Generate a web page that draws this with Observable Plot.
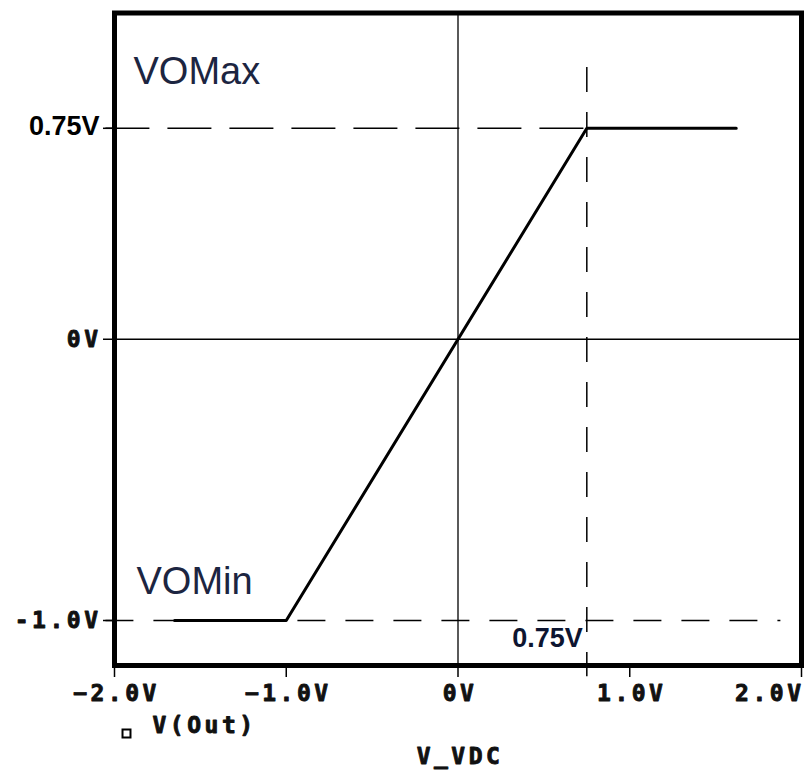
<!DOCTYPE html>
<html><head><meta charset="utf-8">
<script src="https://cdn.jsdelivr.net/npm/d3@7"></script>
<script src="https://cdn.jsdelivr.net/npm/@observablehq/plot@0.6"></script>
<style>
html,body{margin:0;padding:0;background:#fff;}
g[font-family*="Mono"] text{letter-spacing:3.5px;}
</style></head><body><div id="chart"></div>
<script>
// ---- data ----
const xTicks = [-2, -1, 0, 1, 2];
const xTickLabels = ["\u22122.0V", "\u22121.0V", "0V", "1.0V", "2.0V"];
const yTicks = [0.75, 0, -1];
const yTickValues = [0, -1];
const yTickLabels = ["0V", "-1.0V"];
const vIn = [-1.65, -1.0, 0.75, 1.62];
const vOut = [-1.0, -1.0, 0.75, 0.75];
const voMax = 0.75, voMin = -1.0, vBreak = 0.75;
const guideMaxExtent = [-2.05, 0.75];
const guideMinExtent = [-2.05, 1.88];
const guideBreakExtent = [0.966, -1.2];
const seriesName = "V(Out)";
const xAxisTitle = "V_VDC";
const xDomain = [-2, 2];
const yDomain = [-1.16, 1.16];

const curve = vIn.map((x, i) => ({x, y: vOut[i]}));
const mono = {fontFamily: "DejaVu Sans Mono", fontWeight: "bold", fontSize: 23, fill: "#111", stroke: "#111", strokeWidth: 0.9};

const chart = Plot.plot({
  width: 808, height: 781,
  marginLeft: 114, marginRight: 7, marginTop: 12.5, marginBottom: 116,
  x: {domain: xDomain, axis: null},
  y: {domain: yDomain, axis: null},
  style: {background: "white", overflow: "visible"},
  marks: [
    Plot.ruleY([0], {stroke: "#000", strokeWidth: 1.3}),
    Plot.ruleX([0], {stroke: "#000", strokeWidth: 1.3}),
    Plot.ruleY([voMax], {x1: guideMaxExtent[0], x2: guideMaxExtent[1], stroke: "#000", strokeWidth: 1.5, strokeDasharray: "44,18"}),
    Plot.ruleY([voMin], {x1: guideMinExtent[0], x2: guideMinExtent[1], stroke: "#000", strokeWidth: 1.5, strokeDasharray: "28,20"}),
    Plot.ruleX([vBreak], {y1: guideBreakExtent[0], y2: guideBreakExtent[1], stroke: "#000", strokeWidth: 1.5, strokeDasharray: "25,20"}),
    Plot.line(curve, {x: "x", y: "y", stroke: "#000", strokeWidth: 3}),
    Plot.frame({stroke: "#000", strokeWidth: 5}),
    Plot.axisX({ticks: xTicks, tickSize: 12, tickFormat: () => "", label: null, strokeWidth: 1.5}),
    Plot.axisY({ticks: yTicks, tickSize: 11, tickFormat: () => "", label: null, strokeWidth: 1.5}),
    // x tick labels
    Plot.text(xTicks.slice(0, 4), {x: d => d, text: (d, i) => xTickLabels[i], frameAnchor: "bottom", dy: 35, dx: 2, ...mono}),
    Plot.text(xTicks.slice(4), {x: d => d, text: (d, i) => xTickLabels[4 + i], frameAnchor: "bottom", textAnchor: "end", dy: 35, dx: 3, ...mono}),
    // y tick labels
    Plot.text(yTickValues, {y: d => d, text: (d, i) => yTickLabels[i], frameAnchor: "left", textAnchor: "end", dx: -13, ...mono}),
    // legend
    Plot.dot([seriesName], {frameAnchor: "bottom-left", dx: 12, dy: 68, symbol: "square", r: 4.5, stroke: "#000", strokeWidth: 2, fill: "none"}),
    Plot.text([seriesName], {frameAnchor: "bottom-left", dx: 38, dy: 67, textAnchor: "start", text: d => d, ...mono}),
    // x title
    Plot.text([0], {x: d => d, text: () => xAxisTitle, frameAnchor: "bottom", dy: 98, dx: 2, ...mono}),
    // annotations
    Plot.text([voMax], {y: d => d, frameAnchor: "left", text: () => "VOMax", textAnchor: "start", dx: 19, dy: -56, fontSize: 38, fontFamily: "Liberation Sans", fill: "#1c2541"}),
    Plot.text([voMin], {y: d => d, frameAnchor: "left", text: () => "VOMin", textAnchor: "start", dx: 22, dy: -38.5, fontSize: 38, fontFamily: "Liberation Sans", fill: "#1c2541"}),
    Plot.text([voMax], {y: d => d, frameAnchor: "left", text: () => "0.75V", textAnchor: "end", dx: -15, dy: -2, fontSize: 27, fontWeight: "bold", fontFamily: "Liberation Sans", fill: "#000"}),
    Plot.text([vBreak], {x: d => d, frameAnchor: "bottom", text: () => "0.75V", textAnchor: "end", dx: -4, dy: -18.5, fontSize: 27, fontWeight: "bold", fontFamily: "Liberation Sans", fill: "#0d1530"})
  ]
});
document.getElementById("chart").append(chart);
</script></body></html>
